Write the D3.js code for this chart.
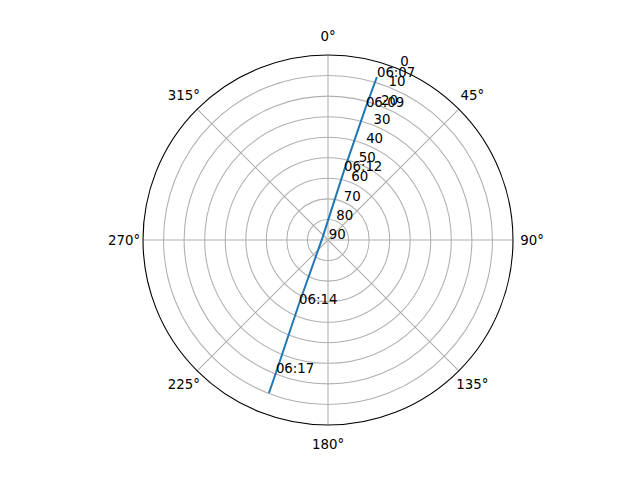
<!DOCTYPE html>
<html><head><meta charset="utf-8">
<script src="https://cdn.jsdelivr.net/npm/d3@7"></script>
<style>body{margin:0;background:#fff}svg{display:block}text{font-family:"DejaVu Sans",sans-serif;font-size:13.33px;fill:#000}</style>
</head><body>
<script>
// pass data: time, azimuth (deg), elevation (deg)
const times = ["06:07","06:09","06:12","","06:14","06:17",""];
const azimuth = [16.7, 15.9, 13.0, 288.7, 204.4, 201.4, 201.1];
const elevation = [7.2, 22.7, 55.5, 87.1, 55.8, 20.5, 10.2];
const labelled = [true, true, true, false, true, true, false];
const radialTicks = [0,10,20,30,40,50,60,70,80,90];
const angleTicks = [0,45,90,135,180,225,270,315];

const W = 640, H = 480, cx = 328, cy = 240, R = 185;
const svg = d3.select("body").append("svg").attr("width", W).attr("height", H);
const g = svg.append("g").attr("transform", `translate(${cx},${cy})`);
const r = d3.scaleLinear().domain([0, 90]).range([R, 0]);
const ang = d => d * Math.PI / 180;
const xy = (a, rad) => [rad * Math.sin(ang(a)), -rad * Math.cos(ang(a))];

// radial grid circles
g.selectAll("circle.grid").data(radialTicks.filter(t => t > 0 && t < 90)).enter()
  .append("circle").attr("r", d => r(d)).attr("fill", "none")
  .attr("stroke", "#b0b0b0").attr("stroke-width", 1.07);
// spokes
g.selectAll("line.spoke").data(angleTicks).enter().append("line")
  .attr("x1", 0).attr("y1", 0)
  .attr("x2", d => xy(d, R)[0]).attr("y2", d => xy(d, R)[1])
  .attr("stroke", "#b0b0b0").attr("stroke-width", 1.07);
// outer spine
g.append("circle").attr("r", R).attr("fill", "none").attr("stroke", "#000").attr("stroke-width", 1.1);

// angle labels
g.selectAll("text.ang").data(angleTicks).enter().append("text")
  .attr("x", d => xy(d, R + 19)[0]).attr("y", d => xy(d, R + 19)[1])
  .attr("text-anchor", "middle").attr("dominant-baseline", "central")
  .text(d => d + "°");
// radial labels
g.selectAll("text.rad").data(radialTicks).enter().append("text")
  .attr("x", d => xy(21.3, r(d))[0] + 9.3).attr("y", d => xy(21.3, r(d))[1] - 5.7)
  .attr("text-anchor", "middle").attr("dominant-baseline", "central")
  .text(d => d);

// pass line
const pts = azimuth.map((a, i) => ({a, e: elevation[i], t: times[i], l: labelled[i]}));
const line = d3.lineRadial().angle(d => ang(d.a)).radius(d => r(d.e));
g.append("path").datum(pts).attr("d", line).attr("fill", "none")
  .attr("stroke", "#1f77b4").attr("stroke-width", 2);
// time annotations
g.selectAll("text.time").data(pts.filter(d => d.l)).enter().append("text")
  .attr("x", d => xy(d.a, r(d.e))[0]).attr("y", d => xy(d.a, r(d.e))[1])
  .attr("text-anchor", "start").text(d => d.t);
</script>
</body></html>
